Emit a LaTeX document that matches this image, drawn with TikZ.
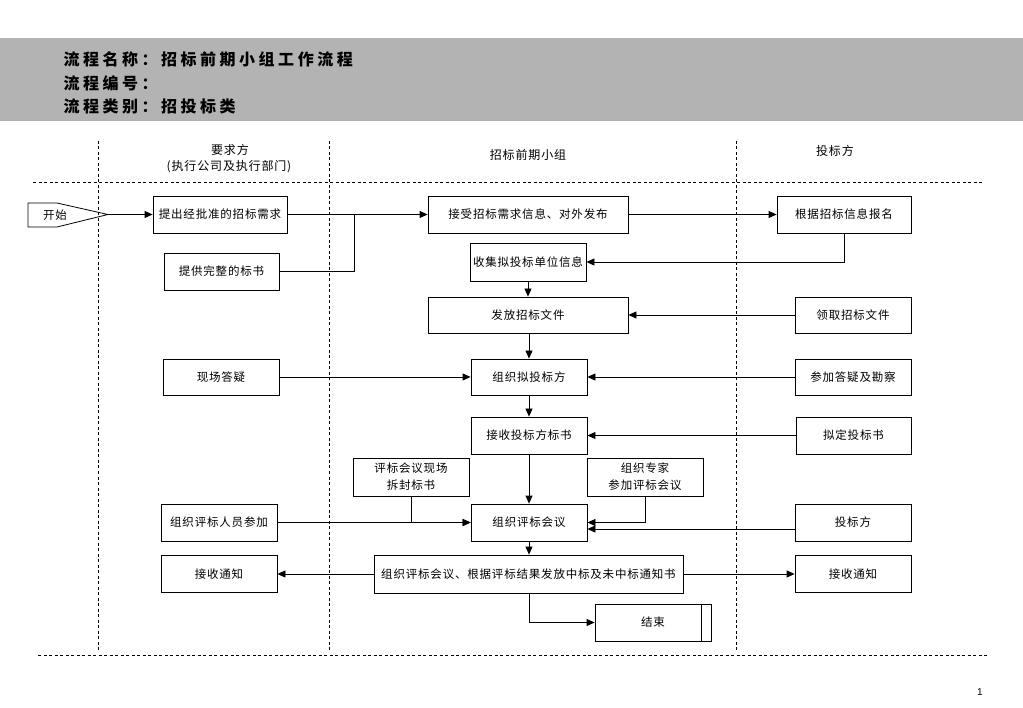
\documentclass[tikz,border=0pt]{standalone}
\usepackage{fontspec}
\setmainfont{Noto Sans CJK SC}
\newfontfamily\bodyfont[LetterSpace=7]{Noto Sans CJK SC}
\newfontfamily\titlefont[LetterSpace=22]{Noto Sans CJK SC}
\newfontfamily\pagefont{Liberation Sans}
\usetikzlibrary{arrows.meta}
\definecolor{banner}{HTML}{B3B3B3}
\begin{document}
\begin{tikzpicture}[x=1pt,y=-1pt,
  box/.style={draw, line width=0.8pt, minimum width=116, minimum height=37, inner sep=1pt, align=center, font=\bodyfont\fontsize{11.5}{17}\selectfont},
  conn/.style={line width=0.8pt},
  arr/.style={conn, -{Triangle[length=8pt,width=7pt]}},
  lane/.style={dash pattern=on 3pt off 2.5pt, line width=0.8pt},
  hdr/.style={font=\bodyfont\fontsize{12}{14}\selectfont},
  ttl/.style={anchor=west, font=\titlefont\bfseries\fontsize{16}{18}\selectfont}]
\useasboundingbox (0,0) rectangle (1023,708);
% banner
\fill[banner] (0,38) rectangle (1023,121);
\node[ttl] (t1) at (60,59) {流程名称：招标前期小组工作流程};
\node[ttl] (t2) at (60,83) {流程编号：};
\node[ttl] (t3) at (60,106) {流程类别：招投标类};
% lanes
\draw[lane] (98,141) -- (98,652);
\draw[lane] (329,141) -- (329,652);
\draw[lane] (736,141) -- (736,652);
\draw[lane] (33,182) -- (982,182);
\draw[lane] (38,655) -- (988,655);
% headers
\node[hdr] (h1) at (230,150) {要求方};
\node[hdr] (h1b) at (229,167) {(执行公司及执行部门)};
\node[hdr] (h2) at (528,155) {招标前期小组};
\node[hdr] (h3) at (835,151) {投标方};
% start
\draw[line width=0.8pt] (28,203) -- (57,203) -- (108,214.5) -- (57,227) -- (28,227) -- cycle;
\node[font=\bodyfont\fontsize{11.5}{14}\selectfont] (start) at (55,215) {开始};
\coordinate (starttip) at (108,214.5);
% nodes
\node[box, minimum width=134] (req) at (220,214.5) {提出经批准的招标需求};
\node[box, minimum width=115] (doc) at (221.5,271.5) {提供完整的标书};
\node[box, minimum width=200] (recv) at (528,214.5) {接受招标需求信息、对外发布};
\node[box, minimum height=38] (coll) at (528,262) {收集拟投标单位信息};
\node[box, minimum width=200, minimum height=36] (issue) at (528,315) {发放招标文件};
\node[box, minimum width=134] (sign) at (844,214.5) {根据招标信息报名};
\node[box, minimum height=36] (get) at (853,315) {领取招标文件};
\node[box, minimum height=36] (qa) at (221,377) {现场答疑};
\node[box, minimum height=36] (org) at (529,377) {组织拟投标方};
\node[box, minimum height=36] (visit) at (853,377) {参加答疑及勘察};
\node[box] (rcvbid) at (529,435.5) {接收投标方标书};
\node[box, minimum width=115] (draft) at (853.5,435.5) {拟定投标书};
\node[box, minimum height=38] (open) at (411,477) {评标会议现场\\拆封标书};
\node[box, minimum height=38] (expert) at (645,477) {组织专家\\参加评标会议};
\node[box] (staff) at (219,522.5) {组织评标人员参加};
\node[box] (meet) at (529,522.5) {组织评标会议};
\node[box] (bidder) at (853,522.5) {投标方};
\node[box] (notl) at (219,574) {接收通知};
\node[box, minimum width=309, minimum height=38] (result) at (528.5,574) {组织评标会议、根据评标结果发放中标及未中标通知书};
\node[box] (notr) at (853,574) {接收通知};
\node[box] (fin) at (653,622.5) {结束};
\draw[line width=0.8pt] ([xshift=-10pt]fin.north east) -- ([xshift=-10pt]fin.south east);
% connectors
\coordinate (j1) at (354,214.5);
\draw[arr] (starttip) -- (req.west);
\draw[arr] (req.east) -- (recv.west);
\draw[conn] (doc.east) -| (j1);
\draw[arr] (recv.east) -- (sign.west);
\draw[arr] (sign.south) |- (coll.east);
\draw[arr] (coll.south) -- (issue.north);
\draw[arr] (get.west) -- (issue.east);
\draw[arr] (org.north |- issue.south) -- (org.north);
\draw[arr] (qa.east) -- (org.west);
\draw[arr] (visit.west) -- (org.east);
\draw[arr] (org.south) -- (rcvbid.north);
\draw[arr] (draft.west) -- (rcvbid.east);
\draw[arr] (rcvbid.south) -- (meet.north);
\draw[arr] (staff.east) -- (meet.west);
\draw[arr] (open.south) |- (meet.west);
\draw[arr] (expert.south) |- (meet.east);
\draw[arr] ([yshift=-6.5pt]bidder.west) -- ([yshift=-6.5pt]meet.east);
\draw[arr] (meet.south) -- (meet.south |- result.north);
\draw[arr] (result.west) -- (notl.east);
\draw[arr] (result.east) -- (notr.west);
\draw[arr] (meet.south |- result.south) |- (fin.west);
% page number
\node[font=\pagefont\fontsize{10}{12}\selectfont] (pg) at (980,692) {1};
\end{tikzpicture}
\end{document}
